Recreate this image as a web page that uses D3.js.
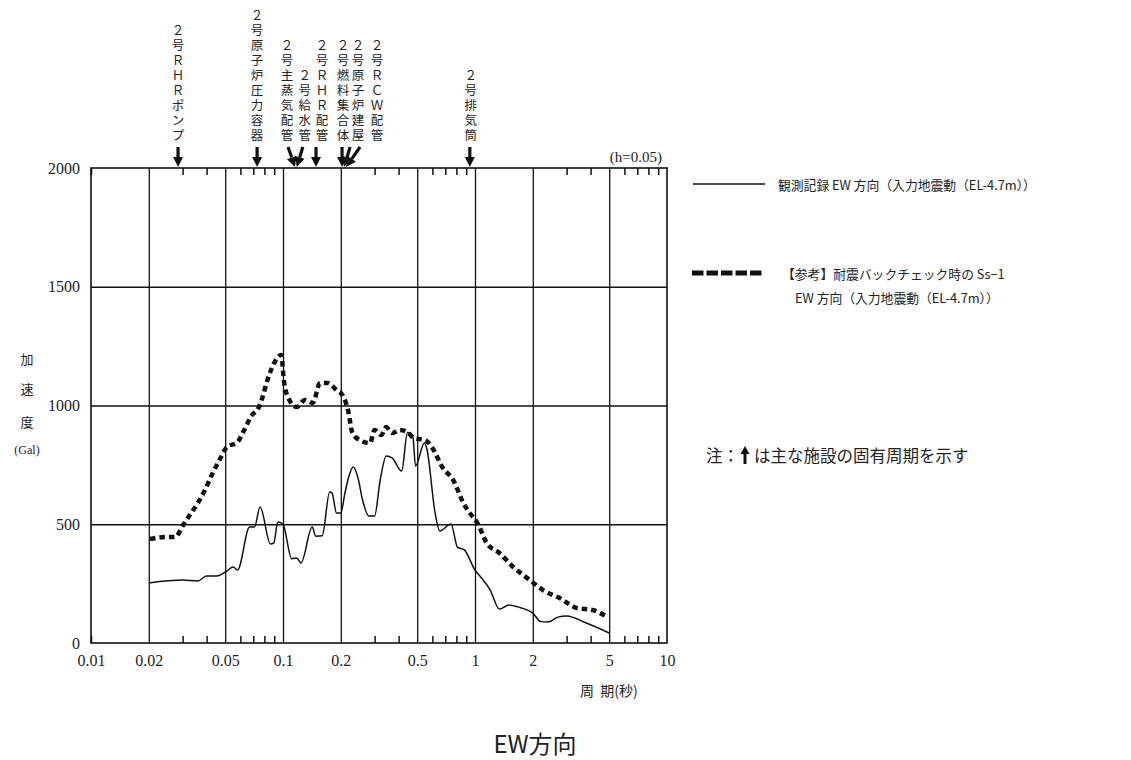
<!DOCTYPE html>
<html>
<head>
<meta charset="utf-8">
<script src="https://cdn.jsdelivr.net/npm/d3@7/dist/d3.min.js"></script>
<style>
  body { margin: 0; background: #fff; }
  svg text { fill: #222; }
  .num { font-family: "Liberation Serif", "DejaVu Serif", serif; }
  .jp { font-family: "Noto Sans CJK JP", sans-serif; }
  .col { font-family: "Liberation Sans", "Noto Sans CJK JP", sans-serif; }
</style>
</head>
<body>
<script>
// Observed record EW (input motion EL-4.7m)
const obsPeriod = [0.02, 0.03, 0.036, 0.04, 0.045, 0.051, 0.055, 0.058, 0.067, 0.071, 0.076, 0.086, 0.0895, 0.094, 0.1,
  0.111, 0.118, 0.124, 0.142, 0.148, 0.16, 0.175, 0.18, 0.19, 0.2, 0.21, 0.22, 0.232, 0.245, 0.26, 0.28, 0.3, 0.32,
  0.345, 0.37, 0.415, 0.445, 0.475, 0.49, 0.545, 0.56, 0.62, 0.655, 0.75, 0.81, 0.88, 1.0, 1.07, 1.2, 1.34, 1.5,
  1.67, 2.0, 2.2, 2.4, 2.7, 3.0, 3.8, 5.0];
const obsAccel = [253, 265, 261, 282, 282, 303, 320, 307, 488, 488, 573, 417, 421, 509, 500,
  355, 358, 337, 488, 450, 452, 636, 632, 547, 547, 630, 700, 741, 700, 600, 535, 535, 680,
  787, 779, 724, 886, 867, 745, 842, 821, 547, 472, 501, 404, 392, 307, 278, 223, 143, 160,
  152, 126, 90, 88, 109, 114, 84, 42];

// [reference] Ss-1 EW at back-check
const ssPeriod = [0.0203, 0.0243, 0.0275, 0.03, 0.0327, 0.036, 0.039, 0.043, 0.047, 0.051, 0.058, 0.062, 0.069, 0.074,
  0.078, 0.083, 0.0905, 0.098, 0.101, 0.106, 0.118, 0.13, 0.143, 0.156, 0.171, 0.19, 0.204, 0.218, 0.23, 0.25, 0.284,
  0.3, 0.325, 0.345, 0.37, 0.405, 0.445, 0.48, 0.55, 0.6, 0.68, 0.77, 0.87, 0.94, 1.03, 1.15, 1.34, 1.58, 1.93, 2.26,
  2.76, 3.4, 4.1, 4.9];
const ssAccel = [438, 446, 446, 493, 539, 589, 640, 715, 775, 825, 846, 888, 960, 985,
  1032, 1107, 1183, 1213, 1107, 1036, 994, 1023, 1011, 1095, 1095, 1065, 1044, 981, 884, 855, 842,
  897, 876, 909, 884, 897, 888, 863, 855, 821, 737, 686, 589, 547, 505, 421, 379, 320, 265, 223,
  189, 147, 139, 109];

// facilities and their natural periods (s)
const facilities = ["２号ＲＨＲポンプ", "２号原子炉圧力容器", "２号主蒸気配管", "２号給水管", "２号ＲＨＲ配管",
  "２号燃料集合体", "２号原子炉建屋", "２号ＲＣＷ配管", "２号排気筒"];
const facilityPeriod = [0.0284, 0.0733, 0.1155, 0.118, 0.1486, 0.203, 0.208, 0.213, 0.94];

const xGrid = [0.02, 0.05, 0.1, 0.2, 0.5, 1, 2, 5];
const xLabels = [0.01, 0.02, 0.05, 0.1, 0.2, 0.5, 1, 2, 5, 10];
const xMinor = [0.01, 0.03, 0.04, 0.06, 0.07, 0.08, 0.09, 0.3, 0.4, 0.6, 0.7, 0.8, 0.9, 3, 4, 6, 7, 8, 9];
const yGrid = [500, 1000, 1500];
const yLabels = [0, 500, 1000, 1500, 2000];

// layout: label column shift and arrow tail shift (px) for crowded arrows
const labelShift = [0, 0, -8, 8, 6, 1, 14, 31, 1];
const tailShift = [0, 0, -7, 6, 0, 0, 6, 14, 0];

const W = 1131, H = 760;
const pLeft = 91, pRight = 667, pTop = 168, pBottom = 643;

const svg = d3.select('body').append('svg')
  .attr('width', W).attr('height', H);

const x = d3.scaleLog().domain([0.01, 10]).range([pLeft, pRight]);
const y = d3.scaleLinear().domain([0, 2000]).range([pBottom, pTop]);

// grid
svg.append('g')
  .attr('transform', 'translate(0,' + pBottom + ')')
  .call(d3.axisBottom(x).tickValues(xGrid).tickSize(-(pBottom - pTop)).tickFormat(''))
  .call(g => g.select('.domain').remove())
  .selectAll('line').attr('stroke', '#111').attr('stroke-width', 1.3);

svg.append('g')
  .attr('transform', 'translate(' + pLeft + ',0)')
  .call(d3.axisLeft(y).tickValues(yGrid).tickSize(-(pRight - pLeft)).tickFormat(''))
  .call(g => g.select('.domain').remove())
  .selectAll('line').attr('stroke', '#111').attr('stroke-width', 1.3);

// minor ticks inside the frame, top and bottom
svg.append('g')
  .attr('transform', 'translate(0,' + pTop + ')')
  .call(d3.axisTop(x).tickValues(xMinor).tickSize(-7).tickFormat(''))
  .call(g => g.select('.domain').remove())
  .selectAll('line').attr('stroke', '#111').attr('stroke-width', 1.5);

svg.append('g')
  .attr('transform', 'translate(0,' + pBottom + ')')
  .call(d3.axisBottom(x).tickValues(xMinor).tickSize(-7).tickFormat(''))
  .call(g => g.select('.domain').remove())
  .selectAll('line').attr('stroke', '#111').attr('stroke-width', 1.5);

// frame
svg.append('rect')
  .attr('x', pLeft).attr('y', pTop)
  .attr('width', pRight - pLeft).attr('height', pBottom - pTop)
  .attr('fill', 'none').attr('stroke', '#111').attr('stroke-width', 1.6);

// tick labels
const xAxis = svg.append('g')
  .attr('transform', 'translate(0,' + pBottom + ')')
  .call(d3.axisBottom(x).tickValues(xLabels).tickSize(0).tickPadding(12).tickFormat(d => String(d)));
xAxis.select('.domain').remove();
xAxis.selectAll('text').attr('class', 'num').style('font-size', '16px').attr('fill', '#222');

const yAxis = svg.append('g')
  .attr('transform', 'translate(' + pLeft + ',0)')
  .call(d3.axisLeft(y).tickValues(yLabels).tickSize(0).tickPadding(11).tickFormat(d3.format('d')));
yAxis.select('.domain').remove();
yAxis.selectAll('text').attr('class', 'num').style('font-size', '16px').attr('fill', '#222');

// curves
const line = d3.line()
  .x(d => x(d[0]))
  .y(d => y(d[1]))
  .curve(d3.curveMonotoneX);

svg.append('path')
  .datum(ssPeriod.map((p, i) => [p, ssAccel[i]]))
  .attr('d', line)
  .attr('fill', 'none')
  .attr('stroke', '#111')
  .attr('stroke-width', 4.5)
  .attr('stroke-dasharray', '5.5,4');

svg.append('path')
  .datum(obsPeriod.map((p, i) => [p, obsAccel[i]]))
  .attr('d', line)
  .attr('fill', 'none')
  .attr('stroke', '#111')
  .attr('stroke-width', 1.5);

// facility arrows and vertical labels
function arrow(g, x0, y0, x1, y1, headLen, headHalf, w) {
  const dx = x1 - x0, dy = y1 - y0, len = Math.hypot(dx, dy);
  const ux = dx / len, uy = dy / len;
  const bx = x1 - ux * headLen, by = y1 - uy * headLen;
  g.append('line').attr('x1', x0).attr('y1', y0).attr('x2', bx).attr('y2', by)
    .attr('stroke', '#111').attr('stroke-width', w);
  g.append('path')
    .attr('d', 'M' + x1 + ',' + y1 + 'L' + (bx - uy * headHalf) + ',' + (by + ux * headHalf) +
      'L' + (bx + uy * headHalf) + ',' + (by - ux * headHalf) + 'Z')
    .attr('fill', '#111');
}

const marks = svg.append('g');
facilities.forEach((name, i) => {
  const tipX = x(facilityPeriod[i]);
  arrow(marks, tipX + tailShift[i], 147, tipX, pTop - 1, 10, 5, 3.2);
  const chars = Array.from(name);
  const n = chars.length;
  marks.selectAll(null)
    .data(chars)
    .enter().append('text')
    .attr('class', 'col')
    .attr('x', tipX + labelShift[i])
    .attr('y', (d, k) => 136 - (n - 1 - k) * 15)
    .attr('text-anchor', 'middle')
    .attr('dominant-baseline', 'central')
    .style('font-size', '12.5px')
    .text(d => d);
});

// damping note
svg.append('text').attr('class', 'num')
  .attr('x', 662).attr('y', 162).attr('text-anchor', 'end')
  .style('font-size', '15px').text('(h=0.05)');

// axis titles
const yTitle = [['加', 358, 'jp', 13], ['速', 388, 'jp', 13], ['度', 421, 'jp', 13], ['(Gal)', 450, 'num', 12]];
yTitle.forEach(t => {
  svg.append('text').attr('class', t[2])
    .attr('x', 27).attr('y', t[1])
    .attr('text-anchor', 'middle').attr('dominant-baseline', 'central')
    .style('font-size', t[3] + 'px').text(t[0]);
});

svg.append('text').attr('class', 'jp')
  .attr('x', 580).attr('y', 690).attr('dominant-baseline', 'central')
  .style('font-size', '14px').text('周\u00a0\u00a0期(秒)');

// chart title
svg.append('text').attr('class', 'jp')
  .attr('x', 535).attr('y', 742).attr('text-anchor', 'middle').attr('dominant-baseline', 'central')
  .style('font-size', '24px').text('EW方向');

// legend
const lg = svg.append('g').attr('class', 'jp').style('font-size', '12.8px');
lg.append('line').attr('x1', 693).attr('x2', 765).attr('y1', 184).attr('y2', 184)
  .attr('stroke', '#111').attr('stroke-width', 1.5);
lg.append('text').attr('x', 778).attr('y', 184).attr('dominant-baseline', 'central')
  .text('観測記録 EW 方向（入力地震動（EL-4.7m））');
lg.append('line').attr('x1', 692).attr('x2', 764).attr('y1', 273).attr('y2', 273)
  .attr('stroke', '#111').attr('stroke-width', 5).attr('stroke-dasharray', '11.5,3');
lg.append('text').attr('x', 782).attr('y', 273).attr('dominant-baseline', 'central')
  .text('【参考】耐震バックチェック時の Ss−1');
lg.append('text').attr('x', 795).attr('y', 297).attr('dominant-baseline', 'central')
  .text('EW 方向（入力地震動（EL-4.7m））');

// note
const note = svg.append('g').attr('class', 'jp').style('font-size', '16.5px');
const n1 = note.append('text').attr('x', 706).attr('y', 455).attr('dominant-baseline', 'central').text('注：');
const ax = 706 + n1.node().getComputedTextLength() + 1;
arrow(note, ax + 5, 464, ax + 5, 446, 8, 4.5, 3);
note.append('text').attr('x', ax + 14).attr('y', 455).attr('dominant-baseline', 'central')
  .text('は主な施設の固有周期を示す');
</script>
</body>
</html>
